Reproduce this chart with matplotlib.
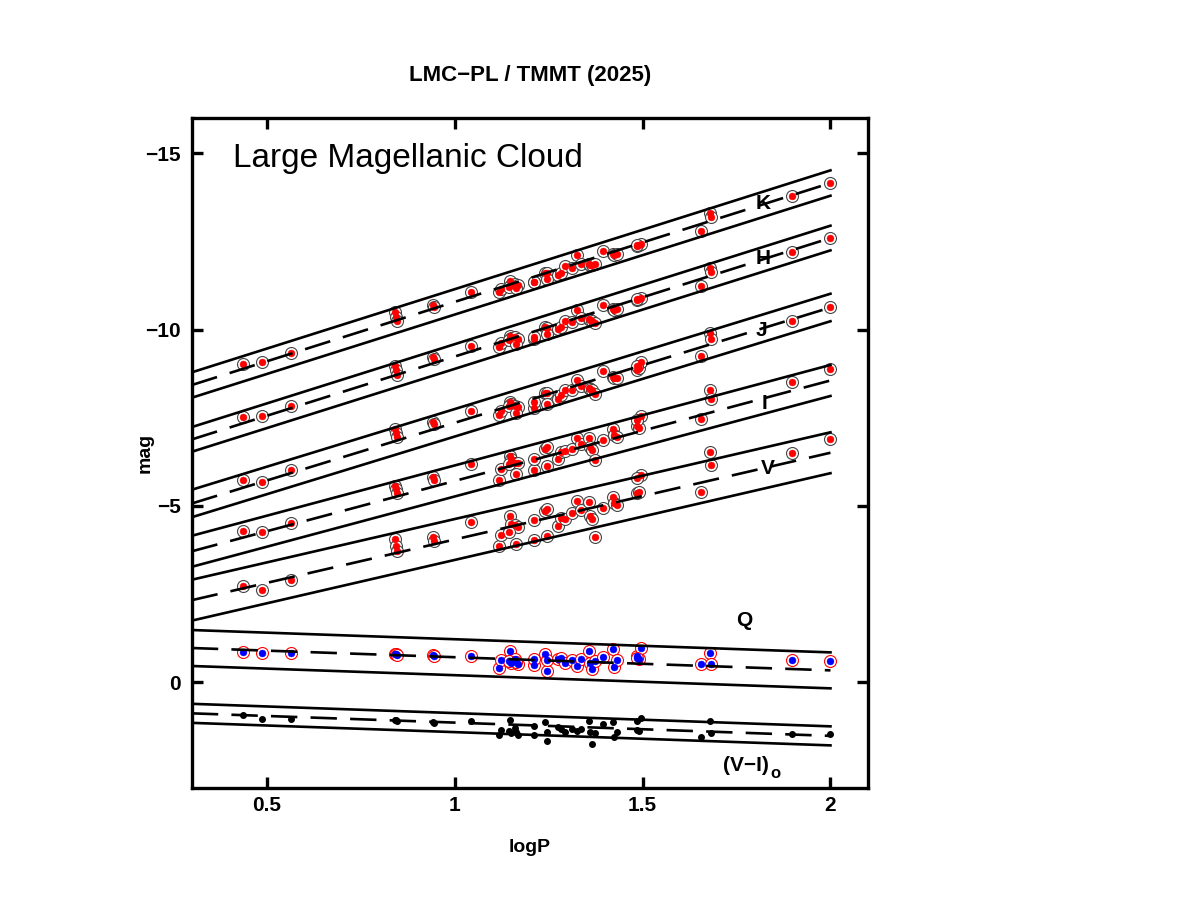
import matplotlib
matplotlib.use("Agg")
import matplotlib.pyplot as plt
import numpy as np

plt.rcParams["font.family"] = ["Liberation Sans", "DejaVu Sans"]

# ── star data ────────────────────────────────────────────────────────────────
logP = [0.436, 0.486, 0.563, 0.840, 0.843, 0.845, 0.941, 0.944, 1.044, 1.117,
        1.124, 1.146, 1.150, 1.159, 1.168, 1.144, 1.163, 1.210, 1.212, 1.239,
        1.246, 1.246, 1.276, 1.283, 1.294, 1.311, 1.326, 1.335, 1.358, 1.360,
        1.364, 1.373, 1.395, 1.420, 1.423, 1.433, 1.485, 1.491, 1.495, 1.486,
        1.656, 1.680, 1.683, 1.898, 1.999]

mag_V = [-2.74, -2.62, -2.91, -4.05, -3.87, -3.73, -4.13, -4.02, -4.54, -3.87,
         -4.18, -4.71, -4.49, -4.47, -4.41, -4.26, -3.93, -4.03, -4.60, -4.85,
         -4.90, -4.14, -4.44, -4.66, -4.64, -4.79, -5.14, -4.88, -5.12, -4.71,
         -4.64, -4.11, -4.95, -5.26, -5.09, -5.04, -5.38, -5.39, -5.87, -5.80,
         -5.39, -6.52, -6.15, -6.49, -6.89]

mag_I = [-4.28, -4.25, -4.51, -5.58, -5.47, -5.38, -5.81, -5.73, -6.18, -5.75,
         -6.04, -6.42, -6.32, -6.23, -6.23, -6.18, -5.90, -6.01, -6.34, -6.61,
         -6.66, -6.13, -6.34, -6.53, -6.56, -6.63, -6.92, -6.75, -6.92, -6.66,
         -6.59, -6.30, -6.87, -7.18, -7.01, -6.96, -7.27, -7.22, -7.55, -7.45,
         -7.46, -8.30, -8.03, -8.53, -8.89]

mag_J = [-5.73, -5.69, -6.02, -7.18, -7.07, -6.95, -7.38, -7.32, -7.70, -7.58,
         -7.70, -7.96, -7.89, -7.84, -7.80, -7.84, -7.64, -7.78, -7.94, -8.21,
         -8.20, -7.90, -8.03, -8.16, -8.30, -8.29, -8.58, -8.40, -8.35, -8.32,
         -8.30, -8.18, -8.84, -8.65, -8.63, -8.62, -8.86, -8.90, -9.09, -8.97,
         -9.25, -9.91, -9.74, -10.25, -10.65]

mag_H = [-7.51, -7.55, -7.83, -8.97, -8.86, -8.72, -9.23, -9.17, -9.54, -9.51,
         -9.63, -9.82, -9.76, -9.79, -9.74, -9.70, -9.60, -9.74, -9.80, -10.08,
         -10.06, -9.88, -10.01, -10.08, -10.24, -10.22, -10.57, -10.33, -10.29, -10.27,
         -10.25, -10.20, -10.71, -10.58, -10.57, -10.58, -10.84, -10.86, -10.90, -10.88,
         -11.23, -11.76, -11.64, -12.21, -12.59]

mag_K = [-9.02, -9.07, -9.33, -10.50, -10.37, -10.25, -10.70, -10.64, -11.08, -11.07,
         -11.15, -11.38, -11.28, -11.31, -11.27, -11.22, -11.17, -11.34, -11.36, -11.62,
         -11.60, -11.45, -11.55, -11.60, -11.81, -11.76, -12.12, -11.87, -11.85, -11.83,
         -11.84, -11.85, -12.24, -12.14, -12.12, -12.14, -12.38, -12.40, -12.43, -12.41,
         -12.80, -13.30, -13.21, -13.78, -14.16]

Q = [-0.86, -0.82, -0.84, -0.81, -0.79, -0.77, -0.76, -0.74, -0.75, -0.41,
     -0.63, -0.89, -0.55, -0.65, -0.53, -0.60, -0.58, -0.50, -0.67, -0.80,
     -0.31, -0.62, -0.65, -0.68, -0.55, -0.63, -0.46, -0.65, -0.88, -0.55,
     -0.37, -0.60, -0.72, -0.93, -0.44, -0.63, -0.74, -0.65, -0.96, -0.70,
     -0.53, -0.84, -0.51, -0.63, -0.61]

VI = [0.94, 1.04, 1.03, 1.07, 1.08, 1.10, 1.14, 1.16, 1.10, 1.51,
      1.35, 1.08, 1.44, 1.30, 1.51, 1.38, 1.42, 1.51, 1.23, 1.13,
      1.67, 1.40, 1.27, 1.32, 1.42, 1.32, 1.39, 1.32, 1.10, 1.42,
      1.75, 1.45, 1.18, 1.13, 1.54, 1.40, 1.35, 1.38, 1.01, 1.10,
      1.54, 1.10, 1.44, 1.46, 1.48]

# PL relations: (zero point at logP=1, slope, half width of the strip)
bands = ["K", "H", "J", "I", "V", "Q", "VI"]
zero_pts = [-10.79, -9.24, -7.36, -5.71, -4.05, -0.71, 1.145]
slopes = [-3.37, -3.36, -3.27, -2.85, -2.46, 0.373, 0.376]
widths = [0.36, 0.35, 0.39, 0.44, 0.58, 0.51, 0.27]

label_text = ["K", "H", "J", "I", "V", "Q"]
label_x = [1.821, 1.821, 1.816, 1.824, 1.834, 1.771]
label_y = [-13.59, -12.02, -9.97, -7.92, -6.06, -1.74]

# ── figure ───────────────────────────────────────────────────────────────────
fig = plt.figure(figsize=(11.77, 9.09), dpi=100)
ax = fig.add_axes([0.163, 0.1331, 0.5745, 0.7369])

x_line = np.array([0.3, 2.0])
for a, b, w in zip(zero_pts, slopes, widths):
    y = a + b * (x_line - 1.0)
    ax.plot(x_line, y, color="k", lw=1.9, ls=(0, (10, 5)), zorder=3)
    ax.plot(x_line, y - w, color="k", lw=1.9, zorder=3)
    ax.plot(x_line, y + w, color="k", lw=1.9, zorder=3)

for mags in [mag_K, mag_H, mag_J, mag_I, mag_V]:
    ax.plot(logP, mags, ls="none", marker="o", ms=8.6, mfc="white",
            mec="#444444", mew=0.8, zorder=2)
    ax.plot(logP, mags, ls="none", marker="o", ms=5.0, mfc="red",
            mec="red", mew=0.3, zorder=2)

ax.plot(logP, Q, ls="none", marker="o", ms=8.6, mfc="white",
        mec="red", mew=0.8, zorder=2)
ax.plot(logP, Q, ls="none", marker="o", ms=5.0, mfc="blue",
        mec="blue", mew=0.3, zorder=2)
ax.plot(logP, VI, ls="none", marker="o", ms=4.0, mfc="k", mec="k", zorder=2)

for t, x, y in zip(label_text, label_x, label_y):
    ax.text(x, y, t, fontsize=15, fontweight="bold", ha="center", va="center")
ax.text(1.776, 2.36, "(V\u2212I)", fontsize=15, fontweight="bold",
        ha="center", va="center")
ax.text(1.853, 2.58, "o", fontsize=12, fontweight="bold",
        ha="center", va="center")

ax.text(0.409, -14.87, "Large Magellanic Cloud", fontsize=24,
        ha="left", va="center")

ax.set_xlim(0.3, 2.1)
ax.set_ylim(3, -16)
ax.set_xticks([0.5, 1, 1.5, 2])
ax.set_xticklabels(["0.5", "1", "1.5", "2"])
ax.set_yticks([-15, -10, -5, 0])
ax.set_yticklabels(["\u221215", "\u221210", "\u22125", "0"])
ax.tick_params(direction="in", length=8, width=2.4, top=True, right=True,
               labelsize=15)
ax.tick_params(axis="x", pad=6)
ax.tick_params(axis="y", pad=8)
for lab in ax.get_xticklabels() + ax.get_yticklabels():
    lab.set_fontweight("bold")
for sp in ax.spines.values():
    sp.set_linewidth(2.4)

ax.set_xlabel("logP", fontsize=14, fontweight="bold", labelpad=17)
ax.set_ylabel("mag", fontsize=14, fontweight="bold")
ax.yaxis.set_label_coords(-0.056, 0.5)
ax.set_title("LMC\u2212PL / TMMT (2025)", fontsize=16, fontweight="bold",
             pad=27)

fig.savefig("out.png", dpi=100)
